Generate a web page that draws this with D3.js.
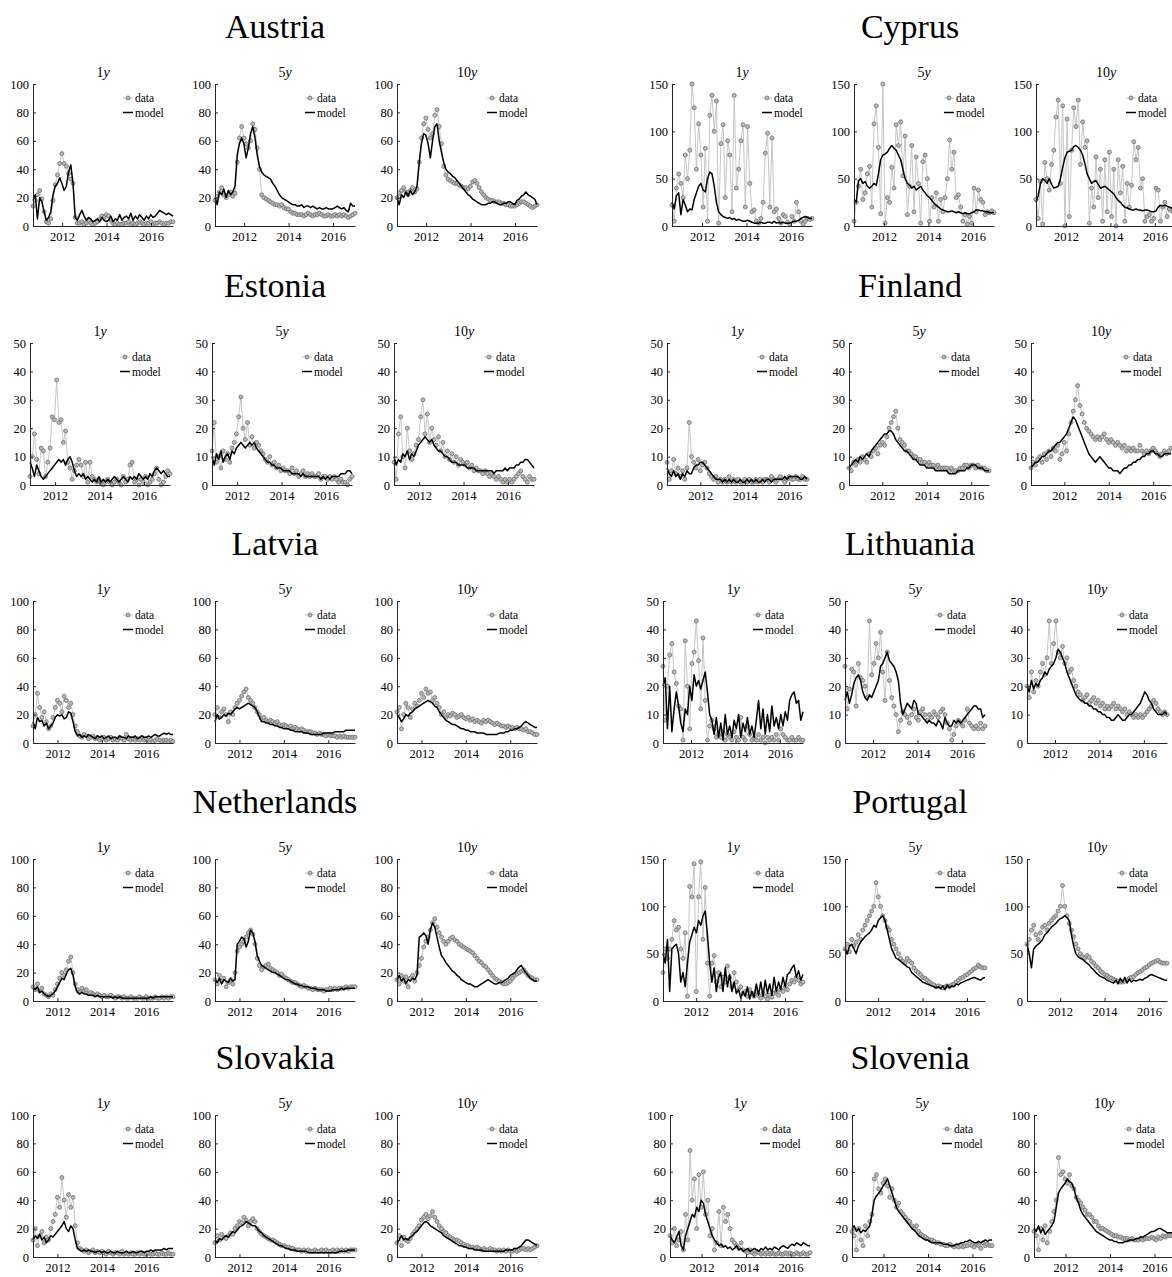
<!DOCTYPE html>
<html>
<head>
<meta charset="utf-8">
<script src="https://cdn.jsdelivr.net/npm/d3@7"></script>
<style>
  body { margin: 0; background: #fff; }
  svg text { font-family: "Liberation Serif", "Times New Roman", serif; fill: #000; }
</style>
</head>
<body>
<svg id="chart" width="1172" height="1277"></svg>
<script>
var countries = ["Austria", "Cyprus", "Estonia", "Finland", "Latvia", "Lithuania", "Netherlands", "Portugal", "Slovakia", "Slovenia"];
var tenors = ["1", "5", "10"];
var yMax = [100, 150, 50, 50, 100, 50, 100, 150, 100, 100];
var yStep = [20, 50, 10, 10, 20, 10, 20, 50, 20, 20];
var sampleStart = [2010.69, 2010.65, 2010.87, 2010.5, 2010.9, 2010.74, 2010.9, 2010.51, 2010.9, 2010.58];
var sampleSpan = 6.3;
var xTickYears = [2012, 2014, 2016];

var austriaData1y = [14,18,22,25,19,10,3,2,5,18,29,36,44,51,44,42,37,33,30,6,2,2,3,1,2,4,2,1,2,3,5,7,6,8,7,4,2,1,2,1,1,2,2,3,1,2,1,2,3,2,1,2,2,3,1,2,2,3,2,1,2,2,3,3];
var austriaModel1y = [18,22,5,20,17,10,4,6,10,22,28,30,34,30,25,28,38,43,30,6,4,8,11,7,4,6,5,3,4,5,3,6,4,3,4,7,3,5,4,8,4,6,7,5,9,4,7,5,8,6,4,7,5,8,6,7,9,11,10,9,8,9,8,7];
var austriaData5y = [18,21,24,27,22,20,22,24,21,23,45,62,70,62,58,55,60,72,68,55,40,22,20,19,18,17,16,15,15,14,15,13,12,12,10,9,9,8,8,8,7,8,9,8,7,8,8,9,8,7,7,8,7,7,8,7,8,7,8,7,6,7,8,9];
var austriaModel5y = [20,15,24,22,26,20,25,22,24,28,50,58,62,58,48,55,65,70,62,50,42,38,36,35,34,33,30,28,25,22,20,19,18,17,16,15,15,14,14,15,13,14,14,13,14,13,12,13,12,12,13,12,12,12,13,14,13,12,13,11,10,16,14,14];
var austriaData10y = [20,23,25,27,24,22,25,27,24,26,45,62,72,76,68,62,65,78,82,70,58,42,36,33,32,31,30,30,29,28,27,27,26,28,31,32,30,27,24,22,20,19,18,18,17,17,17,16,16,15,15,14,14,14,15,16,17,17,16,15,14,13,14,15];
var austriaModel10y = [20,15,22,20,24,21,25,22,24,28,45,58,65,64,58,48,60,70,72,60,52,45,40,38,37,35,34,32,30,28,26,24,22,21,19,18,17,16,15,15,15,16,16,17,17,16,15,15,16,16,17,17,16,15,18,19,21,22,24,22,21,20,19,15];

var cyprusData1y = [22,5,40,55,45,30,75,50,80,150,125,60,108,75,20,82,5,117,138,100,132,3,87,107,30,90,75,15,138,40,60,90,107,20,105,45,15,17,5,3,8,25,77,98,20,93,15,18,8,3,12,10,4,2,10,5,25,15,5,2,5,8,7,8];
var cyprusModel1y = [25,18,32,35,12,28,22,15,18,17,28,35,42,45,38,36,50,57,55,42,25,15,12,10,9,8,9,7,8,6,7,6,5,5,6,5,4,3,3,3,4,3,3,4,4,3,5,3,4,3,4,3,3,3,4,5,5,6,8,9,10,9,8,8];
var cyprusData5y = [5,25,42,60,28,35,55,63,20,108,127,83,13,150,3,30,25,62,40,107,85,110,53,95,12,42,85,15,73,45,3,68,75,50,5,30,20,35,5,28,15,30,50,91,60,78,30,33,20,5,12,2,10,3,40,15,38,28,25,12,15,14,16,14];
var cyprusModel5y = [28,25,48,50,45,47,42,40,42,45,43,55,70,75,76,78,82,85,82,80,75,70,60,50,45,43,40,42,38,40,42,38,35,32,30,27,24,22,20,18,17,16,15,15,16,15,14,15,14,13,14,13,13,14,15,17,17,16,16,15,15,14,14,14];
var cyprusData10y = [28,8,47,2,67,50,38,65,80,115,133,45,127,0,113,10,80,125,105,133,65,110,83,90,3,40,20,73,30,60,5,70,15,78,10,60,0,70,35,63,5,45,20,43,89,70,83,40,50,5,10,12,5,8,40,38,5,20,25,10,18,16,15,17];
var cyprusModel10y = [25,32,45,50,48,45,50,44,40,41,42,50,62,72,78,79,80,84,85,83,80,75,66,55,50,45,47,48,44,40,41,42,40,38,36,34,30,27,25,22,20,19,18,17,17,18,17,17,16,17,17,16,15,15,16,20,22,21,22,21,20,19,18,18];

var estoniaData1y = [3,10,18,9,4,13,12,3,8,13,24,23,37,22,23,15,19,8,6,2,5,7,9,7,3,8,1,8,3,2,1,2,1,0,1,2,1,0,1,2,1,0,3,1,2,7,8,1,2,0,2,1,3,0,1,2,4,6,2,0,1,3,5,4];
var estoniaModel1y = [8,6,3,7,5,3,2,3,4,5,6,7,8,9,8,9,7,9,10,8,5,3,4,3,4,2,3,2,1,2,1,3,1,2,1,2,1,2,3,2,1,2,3,2,1,3,2,3,2,4,3,2,3,2,4,3,5,6,5,4,5,4,3,3];
var estoniaData5y = [12,22,8,10,6,12,9,11,8,13,15,18,24,31,20,16,22,14,17,13,15,14,12,11,9,8,10,7,8,6,7,5,6,5,5,4,6,4,5,3,4,5,3,4,3,4,3,3,4,2,3,3,2,3,2,3,2,1,2,1,1,0,2,3];
var estoniaModel5y = [10,7,11,9,12,8,10,11,9,12,11,13,14,15,14,13,14,15,14,15,13,12,11,10,9,8,8,7,7,6,6,6,5,5,5,5,4,4,4,4,3,4,3,3,3,3,3,3,3,2,3,2,3,2,3,3,3,3,4,4,4,5,5,4];
var estoniaData10y = [8,2,18,24,10,6,20,12,9,11,14,16,24,30,18,25,15,20,16,14,17,12,15,10,12,9,11,8,10,7,9,8,7,8,6,7,5,6,5,5,4,5,4,3,4,3,2,3,2,1,2,1,2,1,2,3,4,5,3,2,1,3,2,2];
var estoniaModel10y = [10,7,9,8,11,10,12,9,11,10,12,14,15,16,17,16,15,16,14,13,12,12,11,10,10,9,8,8,8,7,7,7,7,6,6,6,6,5,5,5,5,5,5,5,5,4,5,5,5,5,6,5,6,6,6,7,7,8,8,9,9,8,7,6];

var finlandData1y = [8,2,5,9,4,6,3,5,2,6,22,10,8,6,9,5,7,8,6,4,3,2,3,1,2,1,2,1,3,1,2,1,2,1,1,2,1,2,1,1,2,1,2,1,2,2,1,3,2,1,2,3,2,1,2,3,2,2,3,2,2,3,2,2];
var finlandModel1y = [6,4,3,5,3,4,2,4,3,5,4,4,6,7,7,8,8,7,6,5,4,3,2,2,2,1,2,1,2,1,2,1,1,2,1,1,2,1,2,1,2,1,1,2,1,2,2,1,2,2,2,2,2,3,2,3,3,3,3,3,2,2,3,2];
var finlandData5y = [6,5,8,7,9,8,10,9,8,11,10,12,13,11,14,15,14,17,20,22,24,26,20,16,15,14,12,12,11,10,10,9,9,8,8,7,8,7,7,6,7,6,6,6,6,5,6,5,5,5,6,6,7,7,6,7,7,6,7,6,6,6,5,5];
var finlandModel5y = [6,7,8,9,8,10,9,10,11,10,12,13,14,15,16,17,18,18,19,19,18,16,15,14,13,12,12,11,10,9,9,8,7,7,7,6,6,6,6,5,5,5,5,5,5,4,4,4,4,5,5,5,5,6,6,7,7,7,6,6,6,5,5,5];
var finlandData10y = [6,8,7,9,10,8,11,9,12,10,13,12,14,9,11,15,12,18,22,26,30,35,28,25,22,20,19,18,17,16,17,16,17,18,16,15,16,15,14,15,14,13,14,12,13,12,13,12,12,14,12,11,12,11,12,13,12,11,10,11,12,11,12,13];
var finlandModel10y = [6,7,8,8,9,10,10,11,12,12,13,14,15,15,16,17,18,20,22,24,23,21,19,17,15,13,11,10,9,8,9,10,9,8,7,6,6,5,5,5,4,5,6,6,7,7,8,8,9,9,10,10,11,11,12,12,11,11,10,10,11,11,11,11];

var latviaData1y = [12,20,35,25,18,22,15,10,12,18,25,30,28,22,33,30,25,28,20,12,8,5,4,6,5,3,4,5,3,4,2,3,4,2,3,4,2,3,2,4,3,2,6,3,2,3,2,3,2,4,2,3,2,2,1,2,3,2,1,2,2,1,2,1];
var latviaModel1y = [15,10,18,15,16,12,14,10,12,14,18,20,19,20,17,18,22,21,15,8,5,6,4,5,4,6,5,4,3,5,4,5,3,4,5,3,4,4,3,5,4,4,3,5,4,4,5,3,4,5,4,4,5,4,5,6,5,5,6,7,6,7,6,6];
var latviaData5y = [20,25,18,22,24,20,15,22,20,25,28,30,33,36,38,32,30,28,25,22,20,17,18,16,15,16,15,14,15,13,12,13,12,11,12,10,11,10,9,10,9,8,8,8,7,7,6,7,6,6,5,6,5,5,5,4,5,4,5,4,4,4,4,4];
var latviaModel5y = [15,20,17,18,20,19,21,20,22,24,25,24,25,26,27,28,27,26,25,22,18,15,15,14,14,13,13,12,12,11,11,10,10,10,9,9,8,8,8,8,7,7,7,6,6,6,6,6,6,7,7,7,7,7,8,8,8,8,8,9,9,9,9,9];
var latviaData10y = [22,25,10,20,28,25,18,24,28,26,30,35,32,38,35,36,30,32,28,25,20,22,18,20,19,21,20,18,19,20,18,17,18,16,17,15,16,15,14,16,15,16,15,14,13,14,13,12,12,11,12,11,11,10,11,10,10,9,10,8,8,7,6,6];
var latviaModel10y = [20,18,15,17,20,19,21,22,24,25,26,27,28,29,30,29,28,26,25,22,20,18,16,15,14,13,13,12,11,10,10,9,9,8,8,8,7,7,7,7,6,6,6,6,6,6,7,7,7,8,8,9,9,10,10,11,12,14,15,14,13,12,11,11];

var lithuaniaData1y = [27,8,20,31,35,25,21,13,12,1,36,20,5,28,32,43,29,12,37,15,1,6,8,5,2,3,2,4,1,3,2,1,4,2,1,9,2,1,6,3,1,2,1,3,1,2,0,2,1,2,1,3,1,5,3,2,1,1,2,1,1,2,1,1];
var lithuaniaModel1y = [20,23,5,20,4,12,18,13,7,4,12,10,20,15,24,20,22,19,22,25,18,10,8,3,9,2,7,1,10,3,6,2,8,5,10,2,7,4,9,3,6,2,8,15,5,12,3,10,4,13,6,9,5,10,6,11,8,15,17,18,14,15,8,11];
var lithuaniaData5y = [27,12,19,26,25,13,28,23,22,20,16,43,24,28,35,30,39,25,15,32,22,16,13,10,4,8,11,10,9,7,10,12,9,8,11,12,10,8,10,9,11,10,9,11,12,10,7,5,1,3,6,8,7,6,8,12,7,6,5,6,5,7,5,6];
var lithuaniaModel5y = [15,18,14,17,21,23,24,22,18,16,15,17,16,18,20,22,27,28,30,32,29,28,27,25,22,14,10,12,14,13,12,15,14,10,10,9,8,7,8,7,7,6,8,7,5,9,7,6,6,8,7,8,7,8,9,10,11,12,13,13,12,12,9,10];
var lithuaniaData10y = [20,16,25,18,22,20,25,28,24,30,43,28,35,43,32,30,34,28,30,25,26,22,20,18,17,15,16,17,14,15,16,14,15,13,14,12,13,12,13,14,12,13,12,11,12,10,11,10,9,10,9,10,9,10,11,12,13,15,14,12,11,10,11,10];
var lithuaniaModel10y = [20,18,22,19,21,20,22,23,25,24,26,27,28,30,33,32,30,28,25,23,21,19,17,16,15,15,14,14,13,13,12,12,11,11,10,10,9,9,8,8,9,10,9,8,8,9,10,10,11,12,13,14,16,18,17,15,14,12,11,10,10,10,11,10];

var netherlandsData1y = [10,8,12,7,9,5,4,3,5,4,8,12,16,20,18,22,28,31,20,12,8,6,9,7,8,5,6,5,4,5,4,3,4,3,3,4,3,2,3,3,2,3,2,2,3,2,2,2,3,2,2,3,2,2,2,3,2,2,3,2,3,2,3,3];
var netherlandsModel1y = [9,8,10,6,7,5,4,3,4,5,7,10,13,16,15,19,22,23,18,10,6,5,6,5,5,4,4,4,3,4,3,3,3,3,3,3,2,3,2,3,2,2,2,2,2,2,2,2,2,2,2,2,2,3,2,3,3,3,3,3,3,3,3,3];
var netherlandsData5y = [15,12,18,14,16,10,13,15,12,20,35,38,40,42,45,48,50,47,40,30,25,22,24,25,26,23,22,21,20,18,19,17,16,15,14,13,13,12,11,10,11,10,9,9,8,9,8,8,8,7,8,8,9,8,9,8,9,9,9,10,9,10,10,10];
var netherlandsModel5y = [15,13,16,12,15,14,13,16,14,15,40,42,45,44,38,42,50,48,42,32,28,25,24,23,22,21,20,20,19,18,17,16,15,15,14,13,12,12,11,11,10,10,10,9,9,9,8,8,8,8,7,7,7,8,8,8,8,9,8,9,9,9,9,9];
var netherlandsData10y = [15,12,18,14,17,10,16,18,14,20,25,30,38,42,45,50,55,58,52,48,45,42,40,42,44,45,43,42,40,39,38,37,36,35,34,32,30,28,27,25,24,22,20,18,16,15,14,13,12,12,13,14,16,18,19,20,21,22,20,18,17,16,15,15];
var netherlandsModel10y = [15,18,14,16,12,15,14,16,15,18,45,46,48,46,40,50,55,52,45,38,32,30,27,25,23,21,20,18,17,15,14,13,12,12,11,10,10,11,12,13,14,15,14,13,12,12,13,13,14,15,16,18,19,20,22,24,25,22,20,18,16,15,14,14];

var portugalData1y = [30,55,45,55,65,85,75,78,55,45,72,5,121,110,145,10,110,147,65,120,40,5,40,48,20,30,15,25,20,37,25,15,30,20,12,15,8,10,5,12,8,5,10,6,3,8,5,2,6,4,8,10,6,12,10,15,12,18,22,20,25,22,18,20];
var portugalModel1y = [50,40,65,10,55,58,60,50,20,30,15,40,62,70,78,72,85,80,90,95,70,40,20,35,10,25,30,10,35,15,28,10,20,8,12,3,10,5,15,2,10,4,18,6,20,5,22,8,18,6,25,10,20,12,25,15,28,30,35,38,25,32,22,28];
var portugalData5y = [55,60,52,65,58,62,70,65,75,80,85,90,95,100,125,110,100,90,85,78,75,65,60,55,50,45,42,40,45,42,40,35,32,30,28,25,24,22,20,18,17,15,16,15,14,15,16,15,17,18,20,22,24,25,27,28,30,32,34,35,38,36,35,35];
var portugalModel5y = [55,50,58,60,55,50,58,62,65,68,70,72,75,80,78,85,88,90,85,75,65,55,50,45,44,42,40,38,36,35,30,28,26,24,22,20,19,18,17,16,15,14,15,13,16,12,17,14,16,15,18,17,19,20,21,22,23,24,25,24,23,22,24,25];
var portugalData10y = [60,65,75,80,70,65,72,78,80,75,82,85,88,90,95,100,122,100,90,82,75,68,60,55,50,47,45,48,46,42,40,37,35,32,30,28,27,25,24,23,22,21,20,20,21,22,24,25,26,28,30,31,33,35,36,38,40,41,42,43,41,40,40,40];
var portugalModel10y = [60,50,35,55,58,60,62,65,70,72,75,78,80,82,85,87,88,90,88,85,70,58,50,47,45,44,42,40,38,35,33,30,28,26,25,24,22,21,20,19,22,18,24,20,25,19,23,20,22,21,22,23,22,24,25,27,28,27,26,25,24,23,22,22];

var slovakiaData1y = [12,20,8,15,18,10,14,12,20,25,30,42,35,56,40,28,44,35,42,22,10,6,5,4,5,3,4,5,3,4,3,4,3,2,4,3,2,3,3,2,4,2,3,2,3,2,2,3,2,3,2,2,3,2,2,3,2,2,3,2,2,3,2,2];
var slovakiaModel1y = [12,15,13,16,12,14,10,12,15,14,16,18,20,22,25,20,18,22,20,12,6,5,4,5,4,5,4,4,3,4,4,3,4,3,3,4,3,3,4,3,3,3,4,3,3,4,3,3,4,4,3,4,4,5,4,5,5,5,5,6,5,6,6,6];
var slovakiaData5y = [10,15,12,16,14,13,15,17,16,20,22,25,24,28,26,22,25,27,25,20,18,16,15,14,13,12,12,11,10,9,8,8,7,7,6,6,5,5,5,4,5,4,5,4,4,5,4,4,5,4,5,4,4,5,4,5,4,5,4,5,4,5,5,5];
var slovakiaModel5y = [12,10,13,12,14,15,14,16,18,17,19,21,22,23,25,24,23,22,22,20,18,17,15,14,13,12,11,10,9,8,8,7,6,6,5,5,5,4,4,4,4,4,3,3,3,3,3,3,3,3,3,3,3,3,3,3,4,4,4,4,5,5,5,5];
var slovakiaData10y = [10,15,8,14,12,11,13,16,18,20,22,26,28,30,27,29,32,28,25,22,20,18,17,15,14,13,12,12,11,10,9,8,8,7,7,6,7,6,5,6,5,5,6,5,5,4,5,4,5,4,5,4,4,5,4,5,6,6,5,6,5,6,7,8];
var slovakiaModel10y = [10,12,15,12,13,12,14,15,17,18,20,22,24,25,24,22,21,20,19,18,17,15,14,13,12,11,10,9,8,8,7,7,6,6,6,5,5,5,5,4,4,4,4,4,4,4,4,4,4,5,5,5,5,6,6,7,8,10,12,12,11,10,9,8];

var sloveniaData1y = [15,10,20,8,12,18,5,30,12,75,40,55,20,58,35,60,30,40,15,20,5,10,32,8,35,25,30,20,12,10,8,6,10,5,4,3,5,3,2,4,3,2,3,2,3,2,3,2,2,3,2,2,3,2,3,2,2,3,2,2,3,2,2,3];
var sloveniaModel1y = [15,12,10,14,18,8,5,15,20,25,30,28,35,32,40,38,30,25,20,15,12,10,8,9,7,8,6,7,5,6,8,5,6,4,5,6,4,5,6,5,4,6,5,7,5,6,5,7,6,5,7,8,7,6,8,9,8,10,9,8,10,9,8,8];
var sloveniaData5y = [18,15,5,20,12,8,22,15,25,30,55,58,48,45,52,55,50,42,48,40,35,38,32,30,28,26,25,22,20,22,18,16,15,14,13,12,12,11,10,10,9,9,8,8,9,8,7,8,7,8,7,8,8,9,8,7,9,8,6,10,8,9,8,8];
var sloveniaModel5y = [20,22,18,20,17,19,18,20,22,30,40,43,45,47,50,52,55,50,45,40,35,32,30,28,26,24,22,20,19,17,15,14,13,12,12,11,10,10,10,10,10,9,9,9,8,8,8,9,9,10,10,11,11,12,11,10,10,11,10,11,12,11,12,12];
var sloveniaData10y = [18,15,5,20,12,22,10,18,25,32,40,70,58,60,55,52,58,50,48,42,40,38,35,33,30,30,28,25,25,22,20,20,19,18,17,16,15,15,14,14,13,13,13,12,13,12,12,12,13,12,13,13,13,14,13,12,14,13,15,14,15,15,15,15];
var sloveniaModel10y = [20,18,22,17,20,16,18,20,22,25,35,45,48,50,52,55,53,52,48,42,38,33,30,28,26,24,22,20,18,17,16,15,14,13,12,12,11,11,10,10,10,11,11,12,12,12,13,13,14,14,15,16,17,18,18,19,20,20,19,18,17,17,17,17];

// lookup tables built from the arrays above
var dataSeries = [
  [austriaData1y, austriaData5y, austriaData10y],
  [cyprusData1y, cyprusData5y, cyprusData10y],
  [estoniaData1y, estoniaData5y, estoniaData10y],
  [finlandData1y, finlandData5y, finlandData10y],
  [latviaData1y, latviaData5y, latviaData10y],
  [lithuaniaData1y, lithuaniaData5y, lithuaniaData10y],
  [netherlandsData1y, netherlandsData5y, netherlandsData10y],
  [portugalData1y, portugalData5y, portugalData10y],
  [slovakiaData1y, slovakiaData5y, slovakiaData10y],
  [sloveniaData1y, sloveniaData5y, sloveniaData10y]
];
var modelSeries = [
  [austriaModel1y, austriaModel5y, austriaModel10y],
  [cyprusModel1y, cyprusModel5y, cyprusModel10y],
  [estoniaModel1y, estoniaModel5y, estoniaModel10y],
  [finlandModel1y, finlandModel5y, finlandModel10y],
  [latviaModel1y, latviaModel5y, latviaModel10y],
  [lithuaniaModel1y, lithuaniaModel5y, lithuaniaModel10y],
  [netherlandsModel1y, netherlandsModel5y, netherlandsModel10y],
  [portugalModel1y, portugalModel5y, portugalModel10y],
  [slovakiaModel1y, slovakiaModel5y, slovakiaModel10y],
  [sloveniaModel1y, sloveniaModel5y, sloveniaModel10y]
];

// ---- layout ----
var svg = d3.select('#chart');
svg.append('rect').attr('width', 1172).attr('height', 1277).attr('fill', '#fff');

var panelW = 140, panelH = 142, panelGap = 182;
var rowTop = [84, 343, 601, 859, 1115];
var titleX = [275, 910];
// left edge of the first panel of each country (y label widths differ)
var firstAxisX = [33, 672, 30, 667, 33, 663, 33, 663, 33, 670];

var axisColor = '#262626';
var dotFill = '#b9b9b9', dotStroke = '#6f6f6f', linkColor = '#c6c6c6';

countries.forEach(function (name, c) {
  var col = c % 2;
  var row = Math.floor(c / 2);
  var top = rowTop[row];

  svg.append('text')
    .attr('x', titleX[col])
    .attr('y', top - 46)
    .attr('text-anchor', 'middle')
    .style('font-size', '34px')
    .text(name);

  var x = d3.scaleLinear()
    .domain([sampleStart[c], sampleStart[c] + sampleSpan])
    .range([0, panelW]);
  var y = d3.scaleLinear()
    .domain([0, yMax[c]])
    .range([panelH, 0]);

  tenors.forEach(function (tn, k) {
    var g = svg.append('g')
      .attr('transform', 'translate(' + (firstAxisX[c] + k * panelGap) + ',' + top + ')');

    var obs = dataSeries[c][k];
    var fit = modelSeries[c][k];
    var obsDate = d3.scaleLinear().domain([0, obs.length - 1]).range(x.domain());
    var fitDate = d3.scaleLinear().domain([0, fit.length - 1]).range(x.domain());

    // subtitle, e.g. "1y" with italic y
    var sub = g.append('text')
      .attr('x', panelW / 2)
      .attr('y', -7)
      .attr('text-anchor', 'middle')
      .style('font-size', '14px');
    sub.append('tspan').text(tn);
    sub.append('tspan').style('font-style', 'italic').text('y');

    // data: light line + circles
    var dataLine = d3.line()
      .x(function (d, i) { return x(obsDate(i)); })
      .y(function (d) { return y(d); });
    g.append('path')
      .datum(obs)
      .attr('d', dataLine)
      .attr('fill', 'none')
      .attr('stroke', linkColor)
      .attr('stroke-width', 1);
    g.selectAll('circle.obs')
      .data(obs)
      .join('circle')
      .attr('class', 'obs')
      .attr('cx', function (d, i) { return x(obsDate(i)); })
      .attr('cy', function (d) { return y(d); })
      .attr('r', 2)
      .attr('fill', dotFill)
      .attr('stroke', dotStroke)
      .attr('stroke-width', 0.8);

    // model line
    var modelLine = d3.line()
      .x(function (d, i) { return x(fitDate(i)); })
      .y(function (d) { return y(d); });
    g.append('path')
      .datum(fit)
      .attr('d', modelLine)
      .attr('fill', 'none')
      .attr('stroke', '#000')
      .attr('stroke-width', 1.5)
      .attr('stroke-linejoin', 'round');

    // axes, ticks pointing inwards
    var yAxis = d3.axisLeft(y)
      .tickValues(d3.range(0, yMax[c] + 1, yStep[c]))
      .tickSize(-3)
      .tickSizeOuter(0)
      .tickPadding(4);
    var xAxis = d3.axisBottom(x)
      .tickValues(xTickYears)
      .tickFormat(d3.format('d'))
      .tickSize(-3)
      .tickSizeOuter(0)
      .tickPadding(6);

    var ya = g.append('g').call(yAxis);
    var xa = g.append('g').attr('transform', 'translate(0,' + panelH + ')').call(xAxis);
    [ya, xa].forEach(function (a) {
      a.selectAll('path, line').attr('stroke', axisColor);
      a.selectAll('text')
        .style('font-family', '"Liberation Serif", serif')
        .style('font-size', '12.5px')
        .attr('fill', '#000');
    });

    // legend
    var lg = g.append('g').attr('transform', 'translate(90,14)');
    lg.append('line').attr('x1', 0).attr('x2', 10).attr('y1', 0).attr('y2', 0)
      .attr('stroke', linkColor).attr('stroke-width', 1);
    lg.append('circle').attr('cx', 5).attr('cy', 0).attr('r', 2)
      .attr('fill', dotFill).attr('stroke', dotStroke).attr('stroke-width', 0.8);
    lg.append('text').attr('x', 12).attr('y', 0).attr('dy', '0.35em')
      .style('font-size', '11.5px').text('data');
    lg.append('line').attr('x1', 0).attr('x2', 10).attr('y1', 14.5).attr('y2', 14.5)
      .attr('stroke', '#000').attr('stroke-width', 1.5);
    lg.append('text').attr('x', 12).attr('y', 14.5).attr('dy', '0.35em')
      .style('font-size', '11.5px').text('model');
  });
});
</script>
</body>
</html>
